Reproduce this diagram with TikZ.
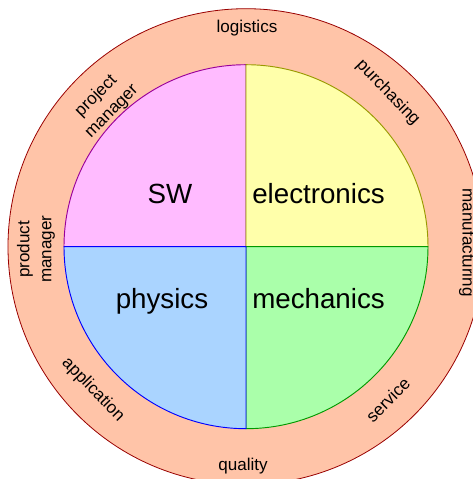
\documentclass[tikz,border=0pt]{standalone}
\usepackage{fontspec}
\setmainfont{Liberation Sans}
\definecolor{ringfill}{HTML}{FFC4A8}
\definecolor{ringline}{HTML}{990000}
\definecolor{swfill}{HTML}{FFBBFF}
\definecolor{swline}{HTML}{990099}
\definecolor{elfill}{HTML}{FFFFAA}
\definecolor{elline}{HTML}{999900}
\definecolor{mefill}{HTML}{AAFFAA}
\definecolor{meline}{HTML}{009900}
\definecolor{phfill}{HTML}{AAD4FF}
\definecolor{phline}{HTML}{0000FF}
\begin{document}
\begin{tikzpicture}[
    x=0.75pt, y=0.75pt,
    role/.style={inner sep=0pt, align=center, font=\fontsize{12.8}{16.5}\selectfont},
    field/.style={inner sep=0pt, anchor=base, font=\fontsize{20.8}{24}\selectfont},
]
  \useasboundingbox (-246,-232.3) rectangle (226,246.7);
  % outer ring
  \filldraw [fill=ringfill, draw=ringline, line width=0.6pt] (0,0) circle (238);
  % four quadrants
  \filldraw [fill=swfill, draw=swline, line width=0.7pt]
      (0,0) -- (180:182) arc (180:90:182) -- cycle;
  \filldraw [fill=elfill, draw=elline, line width=0.7pt]
      (0,0) -- (90:182) arc (90:0:182) -- cycle;
  \filldraw [fill=mefill, draw=meline, line width=0.7pt]
      (0,0) -- (0:182) arc (360:270:182) -- cycle;
  \filldraw [fill=phfill, draw=phline, line width=0.7pt]
      (0,0) -- (270:182) arc (270:180:182) -- cycle;

  \node [field]               (sw)   at (-76, 43.4) {SW};
  \node [field, anchor=base west] (elec) at (6, 43.4)   {electronics};
  \node [field]               (phys) at (-84,-61.6) {physics};
  \node [field, anchor=base west] (mech) at (6,-61.6)   {mechanics};

  \node [role]                (logi) at (1, 219)     {logistics};
  \node [role, rotate=-46]    (purc) at (142, 154)   {purchasing};
  \node [role, rotate=-90]    (manu) at (221, 4)     {manufacturing};
  \node [role, rotate=45]     (serv) at (142,-153)   {service};
  \node [role]                (qual) at (-3,-219)    {quality};
  \node [role, rotate=-46]    (appl) at (-153,-143)  {application};
  \node [role, rotate=90]     (prod) at (-210,-2.5)  {product\\manager};
  \node [role, rotate=45]     (proj) at (-142, 143)  {project\\manager};
\end{tikzpicture}
\end{document}
